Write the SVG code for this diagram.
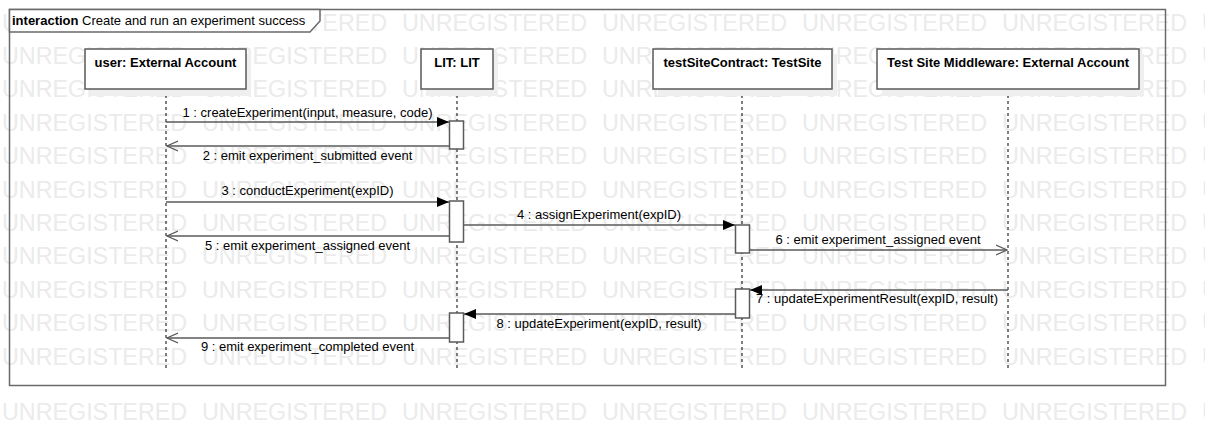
<svg xmlns="http://www.w3.org/2000/svg" xmlns:xlink="http://www.w3.org/1999/xlink" width="1205" height="426" viewBox="0 0 1205 426">
<style>
.wm{font-family:"Liberation Sans",Arial,sans-serif;font-size:23.3px;fill:#ebebeb}
.t{font-family:"Liberation Sans",Arial,sans-serif;font-size:13px;fill:#000}
.b{font-weight:bold}
.c{text-anchor:middle}
.box{fill:#fff;stroke:#5a5a5a;stroke-width:1.5}
.sh{fill:#efefef}
.act{fill:#fff;stroke:#5a5a5a;stroke-width:1.5}
.life{stroke:#000;stroke-width:1;stroke-dasharray:3,3;fill:none}
.msg{stroke:#5a5a5a;stroke-width:1.5;fill:none}
.frame{fill:none;stroke:#6a6a6a;stroke-width:1.5}
</style>
<defs>
<marker id="fill" markerWidth="13" markerHeight="10" refX="12" refY="5" orient="auto" markerUnits="userSpaceOnUse">
<path d="M0,0 L12,5 L0,10 Z" fill="#000"/>
</marker>
<marker id="open" markerWidth="12" markerHeight="12" refX="11" refY="6" orient="auto" markerUnits="userSpaceOnUse">
<path d="M0,1 L11,6 L0,11" fill="none" stroke="#5a5a5a" stroke-width="1.2"/>
</marker>
<g id="wmrow"><text class="wm" y="0"><tspan x="2">UNREGISTERED</tspan><tspan x="202">UNREGISTERED</tspan><tspan x="402">UNREGISTERED</tspan><tspan x="602">UNREGISTERED</tspan><tspan x="802">UNREGISTERED</tspan><tspan x="1002">UNREGISTERED</tspan><tspan x="1202">UNREGISTERED</tspan></text></g>
</defs>
<rect width="1205" height="426" fill="#fff"/>
<g id="watermark">
<use xlink:href="#wmrow" y="30.5"/>
<use xlink:href="#wmrow" y="63.9"/>
<use xlink:href="#wmrow" y="97.3"/>
<use xlink:href="#wmrow" y="130.7"/>
<use xlink:href="#wmrow" y="164.1"/>
<use xlink:href="#wmrow" y="197.5"/>
<use xlink:href="#wmrow" y="230.9"/>
<use xlink:href="#wmrow" y="264.3"/>
<use xlink:href="#wmrow" y="297.7"/>
<use xlink:href="#wmrow" y="331.1"/>
<use xlink:href="#wmrow" y="364.5"/>
<use xlink:href="#wmrow" y="419.5"/>
</g>
<g id="frame">
<rect class="frame" x="9.5" y="9.5" width="1156" height="376"/>
<path d="M9.5,9.5 L320,9.5 L320,21 L310,32 L9.5,32 Z" fill="#fff" stroke="#6a6a6a" stroke-width="1.5"/>
<text class="t" x="12" y="25"><tspan class="b">interaction</tspan> Create and run an experiment success</text>
</g>
<g id="lifelines">
<line class="life" x1="166" y1="89" x2="166" y2="368"/>
<line class="life" x1="457" y1="89" x2="457" y2="368"/>
<line class="life" x1="742" y1="89" x2="742" y2="368"/>
<line class="life" x1="1008" y1="89" x2="1008" y2="368"/>
</g>
<g id="node-user">
<rect class="sh" x="90" y="54" width="161" height="42"/>
<rect class="box" x="85" y="49" width="161" height="40"/>
<text class="t b c" x="165.5" y="67">user: External Account</text>
</g>
<g id="node-lit">
<rect class="sh" x="426" y="54" width="72" height="42"/>
<rect class="box" x="421" y="49" width="72" height="40"/>
<text class="t b c" x="457" y="67">LIT: LIT</text>
</g>
<g id="node-testsite">
<rect class="sh" x="658" y="54" width="179" height="42"/>
<rect class="box" x="653" y="49" width="179" height="40"/>
<text class="t b c" x="742.5" y="67">testSiteContract: TestSite</text>
</g>
<g id="node-middleware">
<rect class="sh" x="882" y="54" width="262" height="42"/>
<rect class="box" x="877" y="49" width="262" height="40"/>
<text class="t b c" x="1008" y="67">Test Site Middleware: External Account</text>
</g>
<g id="activations">
<rect class="act" x="449.5" y="121" width="14" height="28"/>
<rect class="act" x="449.5" y="201" width="14" height="41"/>
<rect class="act" x="735.5" y="225" width="14" height="28"/>
<rect class="act" x="735.5" y="289" width="14" height="29"/>
<rect class="act" x="449.5" y="313" width="14" height="29"/>
</g>
<g id="connectors">
<line class="msg" x1="166" y1="122" x2="449" y2="122" marker-end="url(#fill)"/>
<text class="t c" x="307.5" y="117">1 : createExperiment(input, measure, code)</text>
<line class="msg" x1="449" y1="146" x2="167" y2="146" marker-end="url(#open)"/>
<text class="t c" x="307.5" y="160">2 : emit experiment_submitted event</text>
<line class="msg" x1="166" y1="202" x2="449" y2="202" marker-end="url(#fill)"/>
<text class="t c" x="307.5" y="195">3 : conductExperiment(expID)</text>
<line class="msg" x1="463.5" y1="225" x2="735" y2="225" marker-end="url(#fill)"/>
<text class="t c" x="599" y="219">4 : assignExperiment(expID)</text>
<line class="msg" x1="449" y1="236" x2="167" y2="236" marker-end="url(#open)"/>
<text class="t c" x="307.5" y="250">5 : emit experiment_assigned event</text>
<line class="msg" x1="749.5" y1="250" x2="1007" y2="250" marker-end="url(#open)"/>
<text class="t c" x="878" y="244">6 : emit experiment_assigned event</text>
<line class="msg" x1="1008" y1="290" x2="750" y2="290" marker-end="url(#fill)"/>
<text class="t c" x="877" y="303">7 : updateExperimentResult(expID, result)</text>
<line class="msg" x1="735" y1="314" x2="464" y2="314" marker-end="url(#fill)"/>
<text class="t c" x="599" y="328">8 : updateExperiment(expID, result)</text>
<line class="msg" x1="449" y1="338" x2="167" y2="338" marker-end="url(#open)"/>
<text class="t c" x="307.5" y="351">9 : emit experiment_completed event</text>
</g>
</svg>
